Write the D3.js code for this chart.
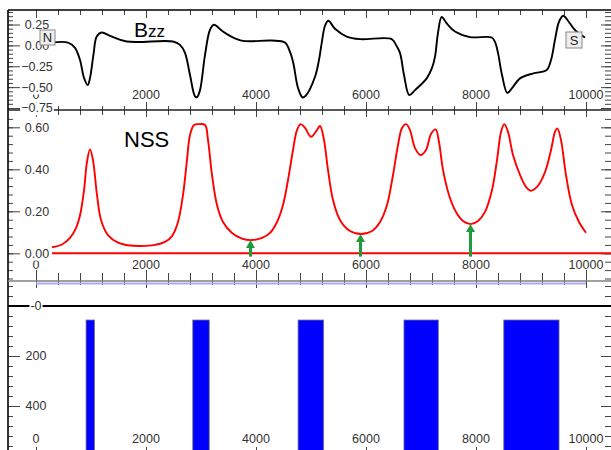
<!DOCTYPE html>
<html lang="en">
<head>
<meta charset="utf-8">
<title>Bzz and NSS along the track</title>
<script src="https://cdn.jsdelivr.net/npm/d3@7"></script>
<style>
  body{ margin:0; background:#fff; }
  svg{ display:block; font-family:Arial, "Liberation Sans", sans-serif; }
  .tick line{ stroke:#444; }
  .domain{ display:none; }
  .lbl{ font-size:12.5px; fill:#333; }
</style>
</head>
<body>
<script>
// Bzz curve (top panel)
var bzzX = [285,582,709,800,873,940,982,1045,1104,1195,1345,1649,2491,2618,2709,2800,2891,2927,2982,3073,
            3164,3236,3382,3527,3764,4285,4527,4618,4678,4764,4849,4909,5073,5145,5195,5255,5315,5436,5649,5891,
            6467,6545,6618,6691,6787,6891,7104,7200,7255,7309,7376,7473,7618,7891,8285,8345,8400,8473,8569,8655,
            8800,9042,9285,9364,9436,9509,9587,9673,9769,9855,9982];
var bzzY = [0.034,0.034,-0.03,-0.175,-0.39,-0.476,-0.39,-0.11,0.106,0.154,0.114,0.046,0.046,0.006,-0.09,-0.355,-0.61,-0.62,-0.536,-0.114,
            0.187,0.247,0.175,0.114,0.054,0.058,0.034,-0.078,-0.21,-0.51,-0.624,-0.6,-0.376,-0.175,0.03,0.235,0.295,0.199,0.106,0.075,
            0.075,0.006,-0.09,-0.355,-0.596,-0.536,-0.395,-0.27,-0.135,0.15,0.34,0.259,0.166,0.099,0.094,0.042,-0.09,-0.355,-0.569,-0.512,
            -0.395,-0.335,-0.295,-0.175,0.066,0.283,0.355,0.295,0.207,0.15,0.094];

// NSS curve (middle panel)
var nssX = [291,473,618,727,800,873,927,982,1036,1109,1182,1309,1491,1709,1891,2164,2345,2473,2582,2673,
            2745,2800,2873,2964,3073,3127,3200,3291,3400,3564,3745,3921,4109,4255,4382,4491,4582,4673,4745,4812,
            4891,5000,5109,5164,5236,5309,5400,5527,5709,5909,6109,6255,6382,6491,6582,6655,6727,6800,6891,6994,
            7091,7182,7267,7327,7400,7509,7636,7764,7903,8036,8164,8291,8382,8455,8515,8582,8673,8800,8909,8994,
            9109,9255,9364,9436,9479,9545,9636,9745,9873,10000];
var nssY = [0.029,0.042,0.073,0.12,0.18,0.30,0.435,0.495,0.444,0.278,0.159,0.087,0.051,0.037,0.035,0.04,0.054,0.082,0.149,0.278,
            0.444,0.563,0.611,0.615,0.611,0.54,0.373,0.23,0.149,0.097,0.07,0.063,0.073,0.097,0.149,0.23,0.349,0.492,0.587,0.615,
            0.597,0.555,0.587,0.606,0.54,0.397,0.254,0.159,0.106,0.092,0.106,0.149,0.23,0.373,0.516,0.597,0.615,0.587,0.501,0.468,
            0.492,0.568,0.59,0.53,0.397,0.278,0.197,0.154,0.139,0.154,0.197,0.301,0.444,0.578,0.615,0.578,0.468,0.373,0.316,0.298,
            0.316,0.387,0.492,0.578,0.595,0.54,0.373,0.23,0.149,0.098];

// green arrows at the NSS minima
var arrowX = [3900, 5900, 7900];
var arrowTip = [0.063, 0.092, 0.139];

// blue blocks (bottom panel)
var barStart = [910, 2850, 4765, 6690, 8505];
var barEnd   = [1065, 3150, 5230, 7315, 9510];
var barTop = 56, barBottom = 700;
var blueLevel = -90;

// tick labels
var xTicks = [0, 2000, 4000, 6000, 8000, 10000];
var bzzTicks = [0.25, 0, -0.25, -0.5, -0.75];
var nssTicks = [0.6, 0.4, 0.2, 0];
var depthTicks = [0, 200, 400];

var W = 611, H = 450;
var svg = d3.select("body").append("svg").attr("width", W).attr("height", H);

var x = d3.scaleLinear().domain([0, 10000]).range([36, 586]);
var yB = d3.scaleLinear().domain([-0.75, 0.25]).range([108, 24.5]);
var yN = d3.scaleLinear().domain([0, 0.6]).range([253.3, 127.3]);
var yD = d3.scaleLinear().domain([0, 400]).range([306, 406]);

var xMinor = d3.range(0, 26).map(function(i){ return i*400; });
var xMajor = xTicks;

// horizontal tick rows
function hAxis(y, dir, minor, major){
  var mk = dir === "down" ? d3.axisBottom : d3.axisTop;
  svg.append("g").attr("transform","translate(0,"+y+")")
    .call(mk(x).tickValues(xMinor).tickSize(minor).tickFormat(""));
  svg.append("g").attr("transform","translate(0,"+y+")")
    .call(mk(x).tickValues(xMajor).tickSize(major).tickFormat(""));
}
hAxis(10, "down", 5, 8);
hAxis(110, "up", 4, 8);
hAxis(110, "down", 5, 7);
hAxis(281, "up", 8, 11);
hAxis(281, "down", 4, 7);
hAxis(455, "up", 4, 8);

// vertical tick rows on left and right frame
function vAxis(scale, minorVals, majorVals, lo, hi){
  var mv = minorVals.filter(function(v){ var p = scale(v); return p > lo && p < hi; });
  svg.append("g").attr("transform","translate(8,0)").call(d3.axisRight(scale).tickValues(mv).tickSize(5).tickFormat(""));
  svg.append("g").attr("transform","translate(8,0)").call(d3.axisRight(scale).tickValues(majorVals).tickSize(12).tickFormat(""));
  svg.append("g").attr("transform","translate(611,0)").call(d3.axisLeft(scale).tickValues(mv).tickSize(6).tickFormat(""));
  svg.append("g").attr("transform","translate(611,0)").call(d3.axisLeft(scale).tickValues(majorVals).tickSize(10).tickFormat(""));
}
vAxis(yB, d3.range(-15, 9).map(function(i){ return i*0.05; }), bzzTicks, 11, 109);
vAxis(yN, d3.range(-3, 18).map(function(i){ return i*0.04; }), nssTicks, 111, 280);
vAxis(yD, d3.range(-2, 15).map(function(i){ return i*40; }), depthTicks, 282, 450);

// frame lines
svg.append("line").attr("x1",8).attr("x2",W).attr("y1",10).attr("y2",10).attr("stroke","#000").attr("stroke-width",1.6);
svg.append("line").attr("x1",8).attr("x2",8).attr("y1",10).attr("y2",H).attr("stroke","#000").attr("stroke-width",1.6);
svg.append("line").attr("x1",8).attr("x2",W).attr("y1",110).attr("y2",110).attr("stroke","#222").attr("stroke-width",1.4);

// bottom panel: pale blue level line, grey separator, zero line
svg.append("line").attr("x1",x(0)).attr("x2",x(10000)).attr("y1",yD(blueLevel)).attr("y2",yD(blueLevel))
  .attr("stroke","#a9acf2").attr("stroke-width",2);
svg.append("line").attr("x1",8).attr("x2",W).attr("y1",281).attr("y2",281).attr("stroke","#808080").attr("stroke-width",1.5);
svg.append("line").attr("x1",8).attr("x2",W).attr("y1",yD(0)).attr("y2",yD(0)).attr("stroke","#000").attr("stroke-width",2);

// blue blocks
svg.selectAll("rect.bar").data(barStart).enter().append("rect").attr("class","bar")
  .attr("x", function(d){ return x(d); })
  .attr("width", function(d,i){ return x(barEnd[i]) - x(d); })
  .attr("y", yD(barTop))
  .attr("height", yD(barBottom) - yD(barTop))
  .attr("fill","#0000ff").attr("stroke","#777").attr("stroke-width",0.8);

// red zero line and NSS curve
svg.append("line").attr("x1",x(nssX[0])).attr("x2",x(10500)).attr("y1",yN(0)).attr("y2",yN(0))
  .attr("stroke","#ff0000").attr("stroke-width",2);
var nssLine = d3.line().x(function(d){ return x(d); }).y(function(d,i){ return yN(nssY[i]); })
  .curve(d3.curveCatmullRom.alpha(0.5));
svg.append("path").attr("d", nssLine(nssX)).attr("fill","none").attr("stroke","#ff0000").attr("stroke-width",1.9);

// Bzz curve
var bzzLine = d3.line().x(function(d){ return x(d); }).y(function(d,i){ return yB(bzzY[i]); })
  .curve(d3.curveCatmullRom.alpha(0.5));
svg.append("path").attr("d", bzzLine(bzzX)).attr("fill","none").attr("stroke","#000").attr("stroke-width",1.9);

// green arrows
var green = "#1f9a3c";
arrowX.forEach(function(a, i){
  var ax = x(a), tip = yN(arrowTip[i]), tail = yN(-0.016);
  svg.append("line").attr("x1",ax).attr("x2",ax).attr("y1",tail).attr("y2",tip+6)
    .attr("stroke",green).attr("stroke-width",3);
  svg.append("path").attr("d","M"+(ax-4.5)+","+(tip+8)+"L"+ax+","+tip+"L"+(ax+4.5)+","+(tip+8)+"Z").attr("fill",green);
});

// x tick labels in each panel
[95, 265, 439].forEach(function(ly){
  svg.append("g").selectAll("text").data(xTicks).enter().append("text").attr("class","lbl")
    .attr("x", function(d){ return x(d); }).attr("y", ly).attr("dy","0.35em")
    .attr("text-anchor","middle").text(function(d){ return d; });
});

// y tick labels with white backing
function yLabels(scale, vals, fmt, cx){
  vals.forEach(function(v){
    var g = svg.append("g");
    var t = g.append("text").attr("class","lbl").attr("x",cx).attr("y",scale(v)).attr("dy","0.35em")
      .attr("text-anchor","middle").text(fmt(v));
    var b = t.node().getBBox();
    g.insert("rect","text").attr("x",b.x-1).attr("y",b.y+1).attr("width",b.width+2).attr("height",b.height-1).attr("fill","#fff");
  });
}
yLabels(yB, bzzTicks, d3.format(".2f"), 37);
yLabels(yN, nssTicks, d3.format(".2f"), 37);
yLabels(yD, depthTicks, function(v){ return v === 0 ? "-0" : String(v); }, 36);

// panel titles
var bt = svg.append("text").attr("x",134).attr("y",36.5).attr("fill","#000");
bt.append("tspan").attr("font-size","21px").text("B");
bt.append("tspan").attr("font-size","17px").text("zz");
svg.append("text").attr("x",124).attr("y",147).attr("font-size","22px").attr("fill","#000").text("NSS");

// N / S markers
function tag(bx, by, s, letter){
  svg.append("rect").attr("x",bx).attr("y",by).attr("width",s).attr("height",s)
    .attr("fill","#eeeeee").attr("stroke","#888").attr("stroke-width",1);
  svg.append("text").attr("x",bx+s/2).attr("y",by+s/2).attr("dy","0.36em").attr("text-anchor","middle")
    .attr("font-size","13px").attr("fill","#222").text(letter);
}
tag(40, 30, 15, "N");
tag(566, 32, 16, "S");
</script>
</body>
</html>
